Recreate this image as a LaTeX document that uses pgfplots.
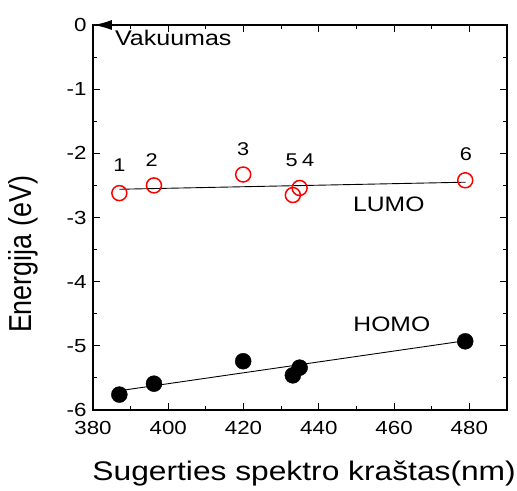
\documentclass[border=0pt]{standalone}
\usepackage{fontspec}
\setmainfont{Liberation Sans}
\usepackage{pgfplots}
\pgfplotsset{compat=1.18}
\usetikzlibrary{arrows.meta}
\begin{document}
\begin{tikzpicture}
\begin{axis}[
  scale only axis,
  width=414bp, height=385bp,
  xmin=380, xmax=490, ymin=-6, ymax=0,
  xtick={380,400,...,480}, ytick={-6,-5,...,0},
  minor x tick num=1, minor y tick num=1,
  tick align=inside,
  major tick length=7bp, minor tick length=4bp,
  axis line style={line width=1.2bp},
  every tick/.style={black, line width=1bp},
  clip=false,
  /pgf/number format/assume math mode=true,
  tick label style={font=\fontsize{19}{23}\selectfont, xscale=1.18},
  xticklabel style={yshift=-8bp},
  yticklabel style={xshift=-2bp},
]
% LUMO
\addplot[only marks, mark=o, mark size=7.5bp, mark options={red, line width=1.5bp}]
  coordinates {(387.0,-2.62) (396.2,-2.50) (419.9,-2.33) (433.1,-2.65) (434.9,-2.54) (478.9,-2.42)};
\addplot[black, line width=0.9bp] coordinates {(387.0,-2.56) (479.0,-2.45)};
% HOMO
\addplot[black, line width=0.9bp] coordinates {(387.0,-5.70) (479.0,-4.92)};
\addplot[only marks, mark=*, mark size=8bp, mark options={black, fill=black}]
  coordinates {(387.0,-5.76) (396.2,-5.59) (419.9,-5.24) (433.1,-5.46) (434.9,-5.34) (478.9,-4.93)};
% labels
\tikzset{numlab/.style={font=\fontsize{18.5}{22}\selectfont, xscale=1.18}}
\node[numlab] at (axis cs:387.0,-2.18) {1};
\node[numlab] at (axis cs:395.6,-2.11) {2};
\node[numlab] at (axis cs:419.9,-1.94) {3};
\node[numlab] at (axis cs:432.8,-2.11) {5};
\node[numlab] at (axis cs:437.2,-2.11) {4};
\node[numlab] at (axis cs:479.1,-2.01) {6};
\node[font=\fontsize{21}{25}\selectfont, xscale=1.18] at (axis cs:458.6,-2.80) {LUMO};
\node[font=\fontsize{21}{25}\selectfont, xscale=1.18] at (axis cs:459.4,-4.66) {HOMO};
\node[font=\fontsize{21.3}{25}\selectfont, xscale=1.18, anchor=west, inner sep=0pt] at (axis cs:385.8,-0.2) {Vakuumas};
\draw[line width=1.5bp, -{Latex[length=18bp,width=10bp]}] (axis cs:390.5,0) -- (axis cs:380.2,0);
% axis labels
\node[font=\fontsize{27}{32}\selectfont, xscale=1.18, anchor=base, inner sep=0pt] at (rel axis cs:0.51,-0.182) {Sugerties spektro kraštas(nm)};
\node[font=\fontsize{27}{32}\selectfont, xscale=1.18, rotate=90, anchor=center, inner sep=0pt] at (rel axis cs:-0.168,0.404) {Energija (eV)};
\end{axis}
\pgfresetboundingbox
\path ([shift={(-93bp,-81bp)}]current axis.south west) rectangle ([shift={(10bp,25bp)}]current axis.north east);
\end{tikzpicture}
\end{document}
